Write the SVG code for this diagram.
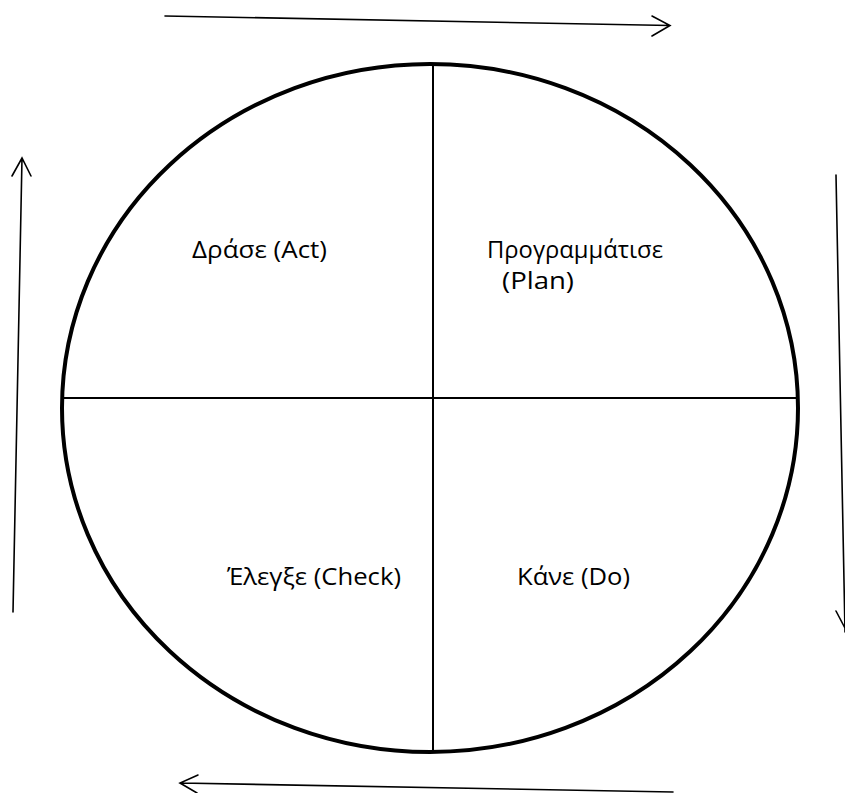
<svg xmlns="http://www.w3.org/2000/svg" width="845" height="793" viewBox="0 0 845 793">
<style>
.lbl{font-family:"Open Sans","Noto Sans","DejaVu Sans",sans-serif;font-size:23px;fill:#000}
.arr{fill:none;stroke:#000;stroke-width:1.6;stroke-linecap:round;stroke-linejoin:miter}
.div{stroke:#000;stroke-width:2}
</style>
<rect width="845" height="793" fill="#fff"/>
<g id="cycle">
<ellipse cx="430" cy="408" rx="368" ry="344" fill="none" stroke="#000" stroke-width="4"/>
<line class="div" x1="62" y1="398" x2="798" y2="398"/>
<line class="div" x1="433" y1="64" x2="433" y2="752"/>
</g>
<g id="act"><text class="lbl" x="192" y="258" textLength="135" lengthAdjust="spacingAndGlyphs">Δράσε (Act)</text></g>
<g id="plan"><text class="lbl" x="487" y="258" textLength="176" lengthAdjust="spacingAndGlyphs">Προγραμμάτισε</text><text class="lbl" x="502" y="289" textLength="72" lengthAdjust="spacingAndGlyphs">(Plan)</text></g>
<g id="check"><text class="lbl" x="227" y="585" textLength="174" lengthAdjust="spacingAndGlyphs">Έλεγξε (Check)</text></g>
<g id="do"><text class="lbl" x="517" y="585" textLength="113" lengthAdjust="spacingAndGlyphs">Κάνε (Do)</text></g>
<g id="connectors">
<path class="arr" d="M165,16 L670,25.5 M652,16 L670,25.5 L652,36"/>
<path class="arr" d="M836,175 L845,632 M836,611 L846,630"/>
<path class="arr" d="M673,792 L180,783 M198,775 L180,783 L197,793"/>
<path class="arr" d="M13,612 L22,158 M12,176 L22,158 L31,176"/>
</g>
</svg>
